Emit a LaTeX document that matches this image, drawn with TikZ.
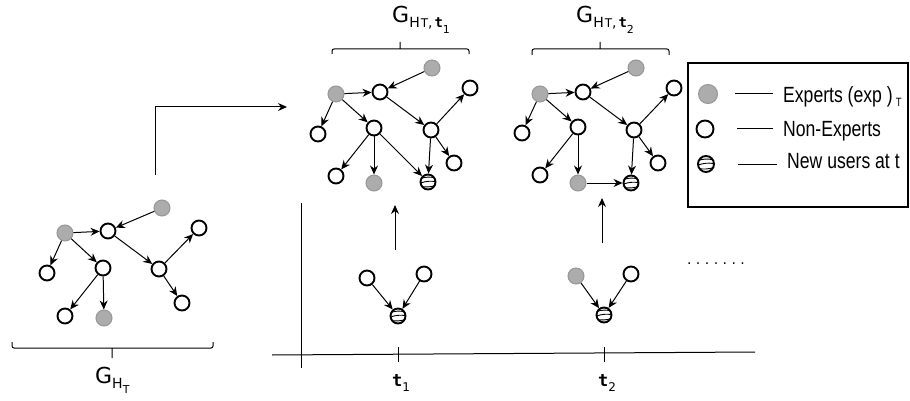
\documentclass[tikz,border=0pt]{standalone}
\usepackage{fontspec}
\setmainfont{DejaVu Sans}
\newfontfamily\legfont[FakeStretch=0.8]{Liberation Sans}
\newfontfamily\tfont{DejaVu Sans Mono}
\usepackage{xcolor}
\usetikzlibrary{arrows.meta,positioning,calc}
\definecolor{expgray}{RGB}{172,172,172}
\definecolor{expline}{RGB}{150,150,150}
\newcommand{\bigG}{{\fontsize{22}{22}\selectfont G}}
\newcommand{\tsym}[2]{{\fontsize{#1}{#1}\selectfont\tfont\bfseries t}}
\frenchspacing

\begin{document}
\begin{tikzpicture}[x=1pt, y=-1pt, >={Stealth[length=9pt,width=8pt]},
 expert/.style={circle, draw=expline, fill=expgray, line width=1pt, minimum size=16pt, inner sep=0pt},
 nonexp/.style={circle, draw, line width=1.9pt, minimum size=15pt, inner sep=0pt},
 newuser/.style={nonexp, path picture={
   \draw[line width=0.9pt] ([yshift=3.5pt]path picture bounding box.west) to[bend left=15] ([yshift=4pt]path picture bounding box.east);
   \draw[line width=0.9pt] ([yshift=-1pt]path picture bounding box.west) to[bend left=12] ([yshift=0.5pt]path picture bounding box.east);
   \draw[line width=0.9pt] ([yshift=-4.5pt]path picture bounding box.west) to[bend right=12] ([yshift=-3.5pt]path picture bounding box.east);}},
 link/.style={->, line width=1pt},
 brk/.style={line width=1pt, rounded corners=2pt}]
\useasboundingbox (0,0) rectangle (910,401);

% graph G_{H_T}
\node[expert] (l1) at (162,208) {}; \node[expert] (l2) at (65,233) {};
\node[nonexp] (l3) at (108,231) {}; \node[nonexp] (l4) at (47,273) {};
\node[nonexp] (l5) at (103,268) {}; \node[nonexp] (l6) at (159,269) {};
\node[nonexp] (l7) at (199,228) {}; \node[nonexp] (l8) at (182,303) {};
\node[nonexp] (l9) at (65,316) {};  \node[expert] (l10) at (104,318) {};
\draw[link] (l1) edge (l3) (l2) edge (l3) (l2) edge (l4) (l2) edge (l5) (l3) edge (l6)
 (l6) edge (l7) (l6) edge (l8) (l5) edge (l9) (l5) edge (l10);
\draw[brk] (12,342) -- (12,348) -- (213,348) -- (213,342) (112,348) -- (112,358);
\node[anchor=base west, inner sep=0] (gl) at (95,383) {\bigG\raisebox{-5pt}{\fontsize{14}{14}\selectfont H\raisebox{-5pt}{\fontsize{11}{11}\selectfont T}}};

% graph at t_1
\node[expert] (m1) at (432,68) {};  \node[expert] (m2) at (336,94) {};
\node[nonexp] (m3) at (380,92) {};  \node[nonexp] (m4) at (318,134) {};
\node[nonexp] (m5) at (374,128) {}; \node[nonexp] (m6) at (431,130) {};
\node[nonexp] (m7) at (470,88) {};  \node[nonexp] (m8) at (454,163) {};
\node[nonexp] (m9) at (336,176) {}; \node[expert] (m10) at (374,183) {};
\node[newuser] (m11) at (428,182) {};
\draw[link] (m1) edge (m3) (m2) edge (m3) (m2) edge (m4) (m2) edge (m5) (m3) edge (m6)
 (m6) edge (m7) (m6) edge (m8) (m5) edge (m9) (m5) edge (m10) (m5) edge (m11) (m6) edge (m11);
\draw[brk] (332,54) -- (332,49) -- (469,49) -- (469,54) (400,49) -- (400,42);
\node[anchor=base west, inner sep=0] (gm) at (392,23) {\bigG\raisebox{-5pt}{\fontsize{14}{14}\selectfont H\kern1pt{\fontsize{12}{12}\selectfont T},\kern2pt\tsym{14}{}}\raisebox{-11pt}{\fontsize{11}{11}\selectfont 1}};

% graph at t_2
\node[expert] (r1) at (636,68) {};  \node[expert] (r2) at (540,94) {};
\node[nonexp] (r3) at (583,92) {};  \node[nonexp] (r4) at (522,133) {};
\node[nonexp] (r5) at (578,127) {}; \node[nonexp] (r6) at (634,130) {};
\node[nonexp] (r7) at (674,88) {};  \node[nonexp] (r8) at (658,163) {};
\node[nonexp] (r9) at (540,175) {}; \node[expert] (r10) at (578,183) {};
\node[newuser] (r11) at (631,183) {};
\draw[link] (r1) edge (r3) (r2) edge (r3) (r2) edge (r4) (r2) edge (r5) (r3) edge (r6)
 (r6) edge (r7) (r6) edge (r8) (r5) edge (r9) (r5) edge (r10) (r6) edge (r11) (r10) edge (r11);
\draw[brk] (532,55) -- (532,49) -- (669,49) -- (669,55) (600,49) -- (600,42);
\node[anchor=base west, inner sep=0] (gr) at (576,23) {\bigG\raisebox{-5pt}{\fontsize{14}{14}\selectfont H\kern1pt{\fontsize{12}{12}\selectfont T},\kern2pt\tsym{14}{}}\raisebox{-11pt}{\fontsize{11}{11}\selectfont 2}};

% G_{H_T} feeds the snapshots
\coordinate (lout) at (155,175);
\coordinate (min) at (287,107);
\draw[link] (lout) |- (min);

% time axis
\draw[line width=1pt] (272,355) -- (755,352);
\draw[line width=1pt] (301,203) -- (301,368);
\draw[line width=0.9pt] (398,347) -- (398,362) (604,347) -- (604,362);
\node[anchor=base west, inner sep=0] (t1) at (392,386) {\tsym{17}{}\raisebox{-5pt}{\fontsize{12}{12}\selectfont 1}};
\node[anchor=base west, inner sep=0] (t2) at (598,386) {\tsym{17}{}\raisebox{-5pt}{\fontsize{12}{12}\selectfont 2}};

% new users at t_1 and t_2
\node[nonexp] (p1) at (367,278) {}; \node[nonexp] (p2) at (424,274) {};
\node[newuser] (p3) at (398,316) {};
\draw[link] (p1) edge (p3) (p2) edge (p3);
\node[expert] (q1) at (576,276) {}; \node[nonexp] (q2) at (631,274) {};
\node[newuser] (q3) at (604,315) {};
\draw[link] (q1) edge (q3) (q2) edge (q3);
\coordinate (u1) at (395,250);
\coordinate (u2) at (602,243);
\draw[link] (u1) -- ++(0,-45);
\draw[link] (u2) -- ++(0,-45);
\node[anchor=base, inner sep=0, font=\fontsize{14}{14}\selectfont] (dots) at (716,264) {. . . . . . .};

% legend
\draw[line width=1.2pt] (688,63) rectangle (908,207);
\node[expert, minimum size=19pt] (k1) at (708,94) {};
\node[nonexp, minimum size=17pt] (k2) at (705,129) {};
\node[newuser, minimum size=16pt] (k3) at (706,164) {};
\node[anchor=base west, inner sep=0, font=\legfont\fontsize{22}{22}\selectfont] (x1) at (783,103) {Experts (exp )\hspace{3pt}\raisebox{-4pt}{\fontsize{12}{12}\selectfont T}};
\node[anchor=base west, inner sep=0, font=\legfont\fontsize{22}{22}\selectfont] (x2) at (783,137) {Non-Experts};
\node[anchor=base west, inner sep=0, font=\legfont\fontsize{22}{22}\selectfont] (x3) at (787,168) {New users at t};
\draw[line width=1pt] ([xshift=-48pt]x1.west |- k1) -- ++(38,0);
\draw[line width=1pt] ([xshift=-46pt]x2.west |- k2) -- ++(36,0);
\draw[line width=1pt] ([xshift=-49pt]x3.west |- k3) -- ++(39,0);
\end{tikzpicture}
\end{document}
